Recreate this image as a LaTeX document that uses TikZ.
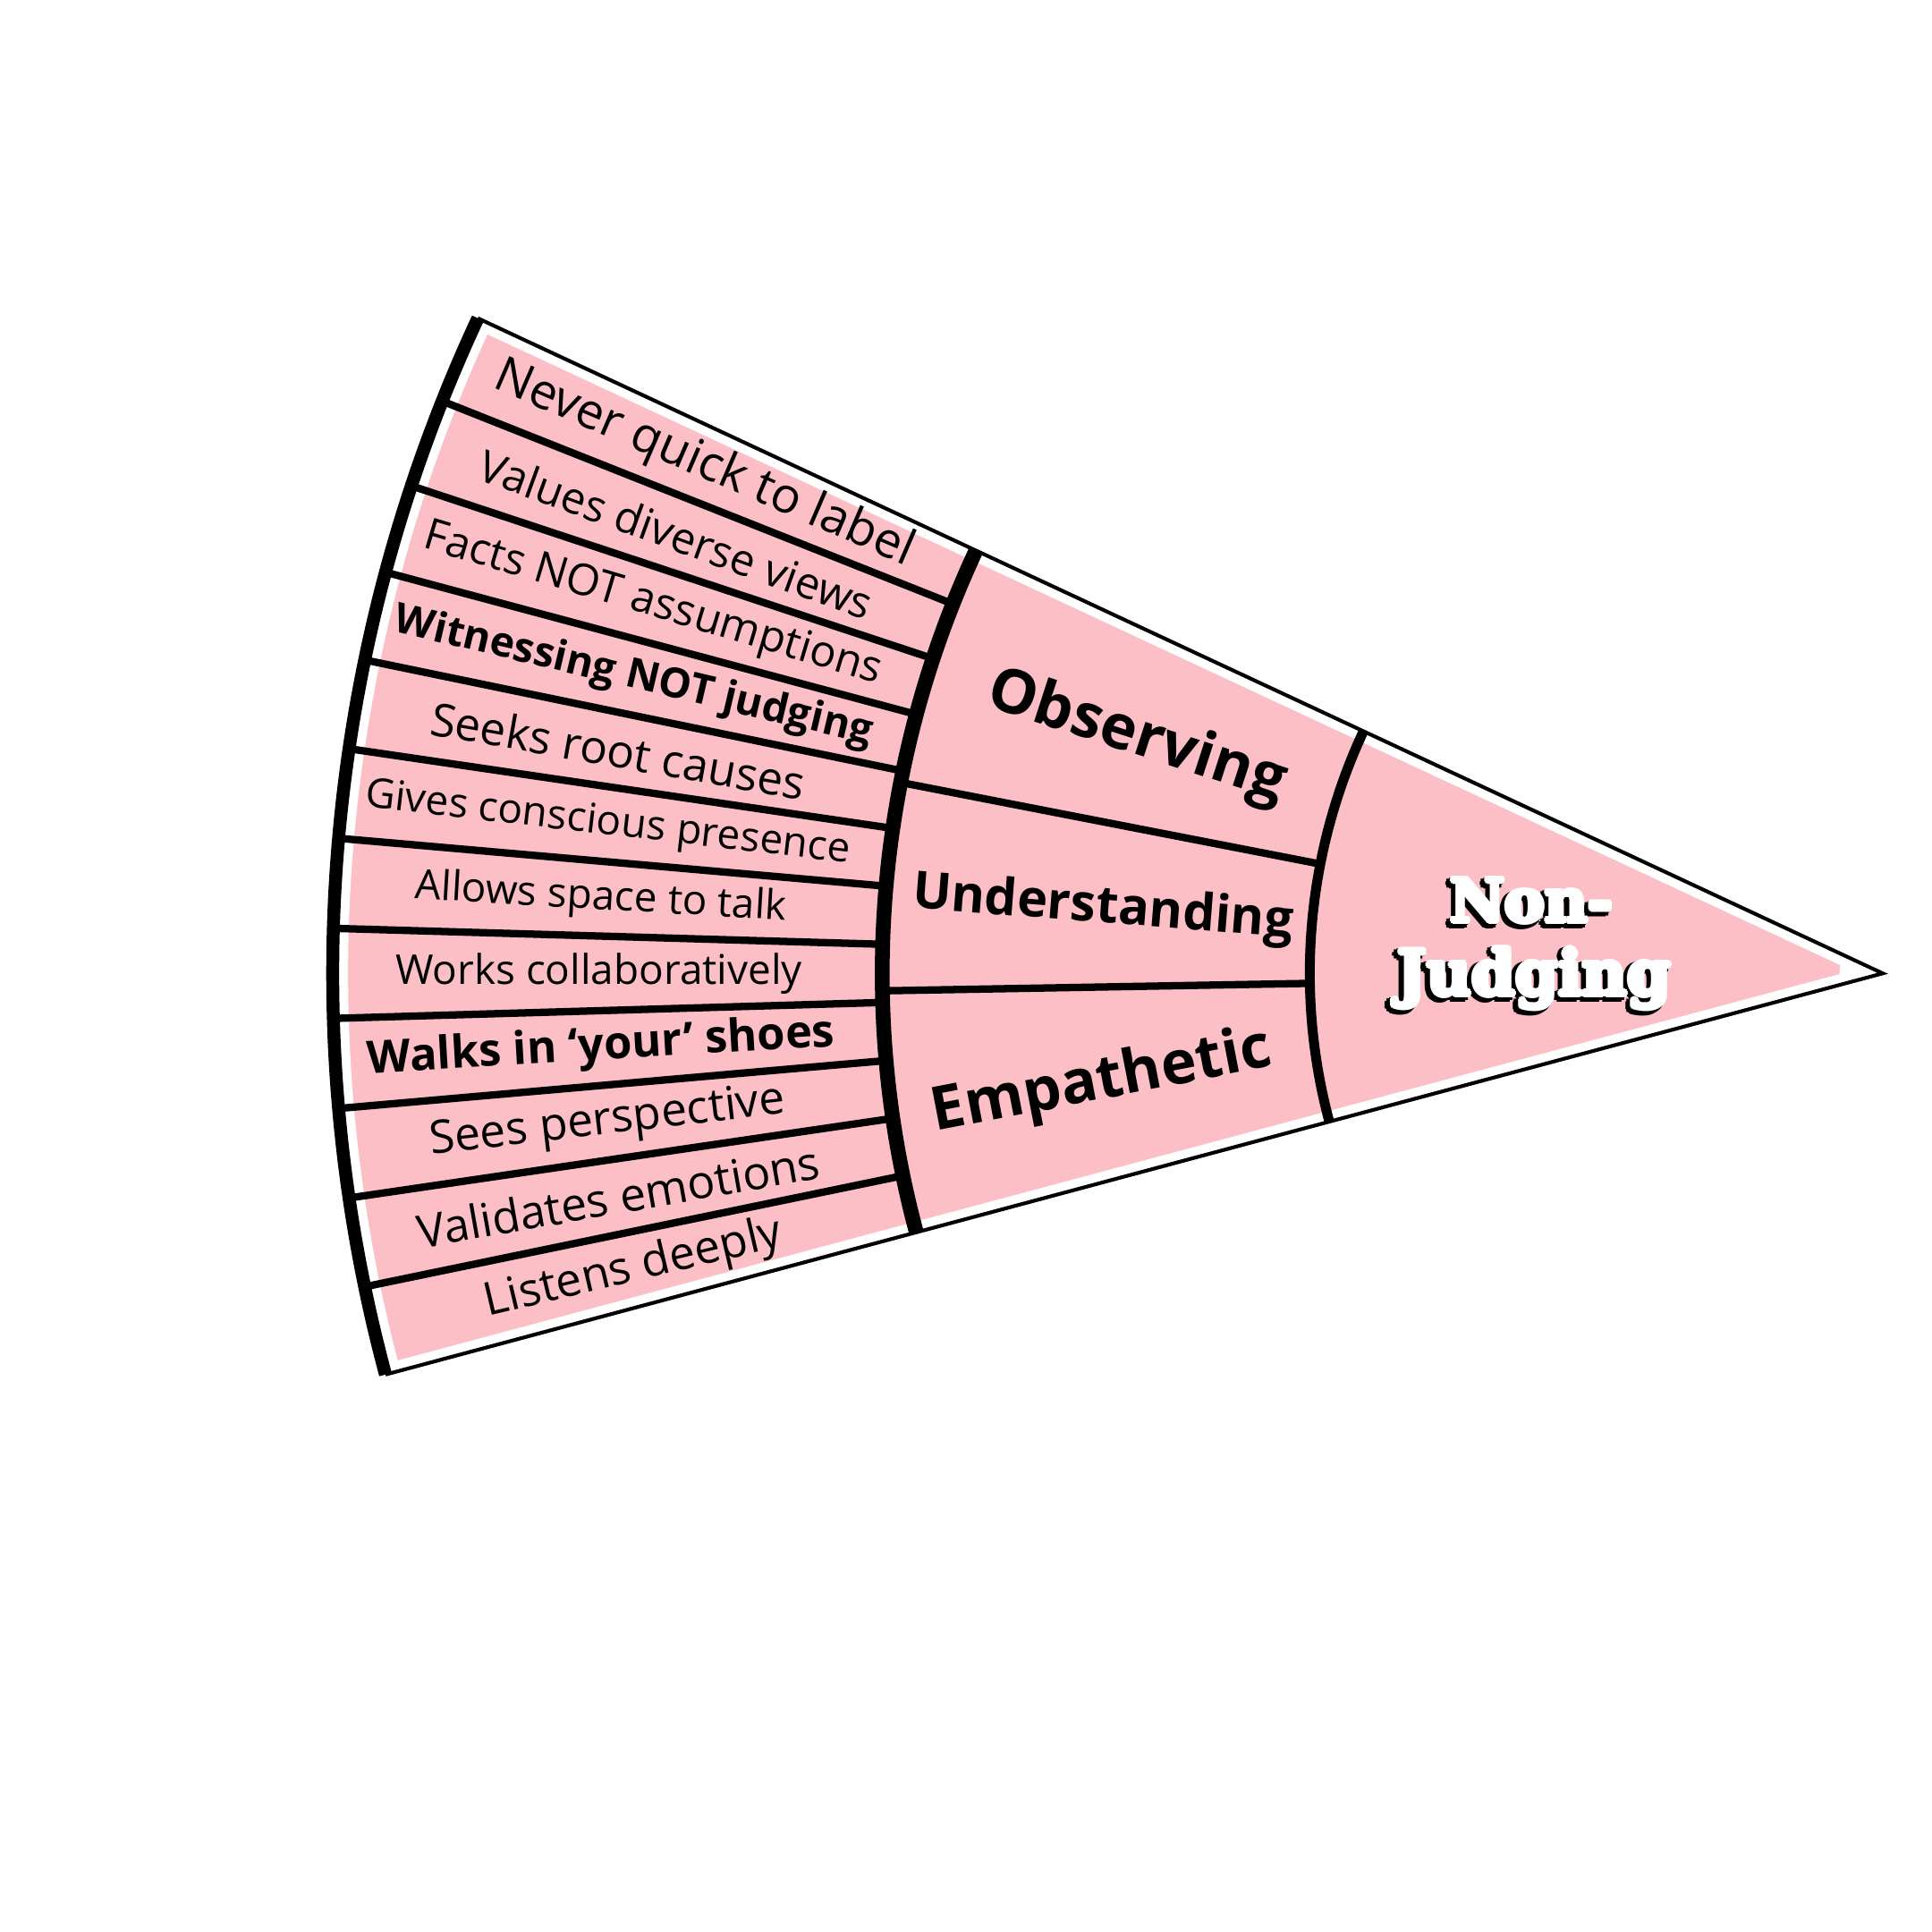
\documentclass[tikz,border=0pt]{standalone}
\usepackage{fontspec}
\setmainfont{Open Sans}
\newfontfamily\slabfont{DejaVu Serif Bold}
\usepackage{graphicx}
\usepackage{contour}
\contourlength{0.4pt}
\contournumber{8}
\usetikzlibrary{calc}
\definecolor{petal}{RGB}{251,191,197}

\begin{document}
\begin{tikzpicture}[
  rim/.style={line width=1.05mm},
  ring/.style={line width=1.2mm},
  core/.style={line width=0.8mm},
  spoke/.style={line width=0.6mm},
  edge/.style={line width=0.3mm},
  gap/.style={white,line width=1.7mm},
  item/.style={inner sep=0pt},
  mid/.style={inner sep=0pt,font=\bfseries},
  slab/.style={inner sep=0pt,font=\slabfont}]
\useasboundingbox[fill=white] (0,0) rectangle (15.68,15.68);
\coordinate (tip) at (15.28,7.78);
\coordinate (top) at ($(tip)+(155:12.58)$);
\coordinate (bot) at ($(tip)+(195:12.58)$);
\fill[petal] (tip) -- (top) arc[start angle=155,end angle=195,radius=12.58] -- cycle;
\draw[gap] (top) -- (tip) -- (bot);
\fill[white] (tip) -- ($(tip)+(155:0.35)$) arc[start angle=155,end angle=195,radius=0.35] -- cycle;
\draw[white,line width=2.5mm] (top) arc[start angle=155,end angle=195,radius=12.58];
\draw[edge] (top) -- (tip) -- (bot);
\foreach \k in {1,...,11}{
  \pgfmathsetmacro\ang{155+\k*40/12}
  \draw[spoke] ($(tip)+(\ang:8.12)$) -- ($(tip)+(\ang:12.58)$);
}
\draw[spoke] ($(tip)+(169:4.65)$) -- ($(tip)+(169:8.12)$);
\draw[spoke] ($(tip)+(181:4.65)$) -- ($(tip)+(181:8.12)$);
\draw[rim] (top) arc[start angle=155,end angle=195,radius=12.58];
\draw[ring] ($(tip)+(155:8.12)$) arc[start angle=155,end angle=195,radius=8.12];
\draw[core] ($(tip)+(155:4.65)$) arc[start angle=155,end angle=195,radius=4.65];
\foreach \txt/\tw [count=\i] in {
  Never quick to label/3.67,
  Values diverse views/3.37,
  Facts NOT assumptions/3.86,
  \textbf{Witnessing NOT judging}/3.98,
  Seeks root causes/3.08,
  Gives conscious presence/3.96,
  Allows space to talk/3.02,
  Works collaboratively/3.30,
  \textbf{Walks in `your' shoes}/3.80,
  Sees perspective/2.90,
  Validates emotions/3.31,
  Listens deeply/2.47}{
  \pgfmathsetmacro\ang{155+(\i-0.5)*40/12}
  \node[item,rotate=\ang-180] (item\i) at ($(tip)+(\ang:10.42)$) {\resizebox{\tw cm}{!}{\txt}};
}
\node[mid,rotate=-18] (observing) at ($(tip)+(162.5:6.35)$) {\resizebox{2.52cm}{!}{Observing}};
\node[mid,rotate=-4.5] (understanding) at ($(tip)+(175.3:6.35)$) {\resizebox{3.10cm}{!}{Understanding}};
\node[mid,rotate=11] (empathetic) at ($(tip)+(188:6.4)$) {\resizebox{2.80cm}{!}{Empathetic}};
\node[slab,black] (nonshadow) at ($(tip)+(-2.88,0.55)$) {\resizebox{1.32cm}{!}{\contourlength{0.6pt}\contour{black}{Non-}}};
\node[slab,white] (non) at ($(tip)+(-2.85,0.58)$) {\resizebox{1.32cm}{!}{\contour{white}{Non-}}};
\node[slab,black] (judgingshadow) at ($(tip)+(-2.86,-0.08)$) {\resizebox{2.22cm}{!}{\contourlength{0.6pt}\contour{black}{Judging}}};
\node[slab,white] (judging) at ($(tip)+(-2.83,-0.05)$) {\resizebox{2.22cm}{!}{\contour{white}{Judging}}};
\end{tikzpicture}
\end{document}
